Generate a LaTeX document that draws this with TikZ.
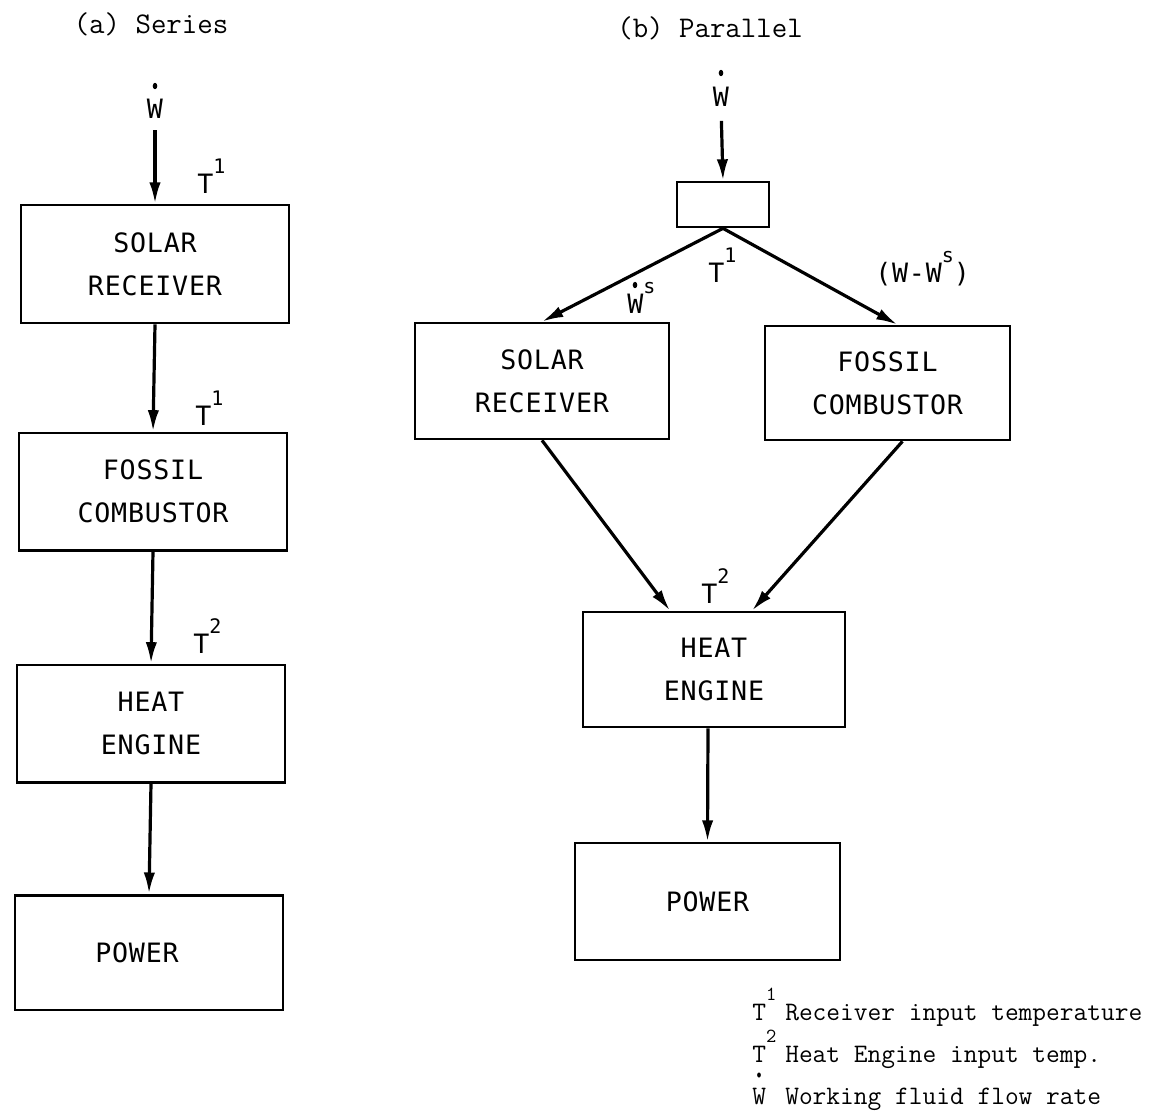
\documentclass[tikz,border=0pt]{standalone}
\usepackage{fontspec}
\usetikzlibrary{positioning,arrows.meta,calc}
\newfontfamily\boxfont[LetterSpace=3]{DejaVu Sans Mono}
\newcommand{\tsup}[1]{\raisebox{0.74em}{\fontsize{15}{15}\selectfont #1}}

\begin{document}
\begin{tikzpicture}[x=0.75pt, y=-0.75pt,
  block/.style={draw, line width=2pt, align=center, font=\boxfont\fontsize{20}{32}\selectfont},
  flow/.style={-{Latex[length=16pt,width=8.5pt]}, line width=2.4pt},
  lbl/.style={font=\boxfont\fontsize{20}{24}\selectfont, inner sep=0pt, anchor=base west},
  title/.style={font=\ttfamily\fontsize{22.5}{24}\selectfont},
  legend/.style={font=\ttfamily\fontsize{20}{22}\selectfont, inner sep=0pt, anchor=base west},
  ratedot/.style={fill, x radius=1.7pt, y radius=2.4pt}]

\useasboundingbox (0,0) rectangle (1164,1115);

% (a) series
\node[title] (ttlA) at (151,24) {(a) Series};
\node[lbl, anchor=base] (wA) at (155,118) {W};
\node[block, minimum width=201pt, minimum height=88.5pt] (solA) at (155,264) {SOLAR\\RECEIVER};
\node[block, minimum width=201pt, minimum height=88pt] (fosA) at (153,491.5) {FOSSIL\\COMBUSTOR};
\node[block, minimum width=201pt, minimum height=88pt] (heA) at (151,723.5) {HEAT\\ENGINE};
\node[block, minimum width=201pt, minimum height=86pt] (powA) at (149,952.5) {\hspace*{-18pt}POWER};

\node[lbl] (t1a) at (197,193) {T\tsup{1}};
\node[lbl] (t1b) at (195,425) {T\tsup{1}};
\node[lbl] (t2a) at (193,653) {T\tsup{2}};

\fill[ratedot] ($(wA.base)+(0,-32)$) ellipse [];
\draw[flow, shorten <=9pt] (wA.south) -- (solA.north);
\draw[flow] (solA.south) -- (fosA.north);
\draw[flow] (fosA.south) -- (heA.north);
\draw[flow] (heA.south) -- (powA.north);

% (b) parallel
\node[title] (ttlB) at (710,28) {(b) Parallel};
\node[lbl, anchor=base] (wB) at (721,106) {W};
\node[draw, line width=2pt, minimum width=69pt, minimum height=33.75pt] (split) at (723,204.5) {};
\node[block, minimum width=190.5pt, minimum height=87pt] (solB) at (542,381) {SOLAR\\RECEIVER};
\node[block, minimum width=183.75pt, minimum height=85.5pt] (fosB) at (887.5,383) {FOSSIL\\COMBUSTOR};
\node[block, minimum width=196.5pt, minimum height=86.25pt] (heB) at (714,669.5) {HEAT\\ENGINE};
\node[block, minimum width=198.75pt, minimum height=87.75pt] (powB) at (707.5,901.5) {POWER};

\node[lbl] (t1c) at (708,282) {T\tsup{1}};
\node[lbl] (wsB) at (627,313) {W\tsup{s}};
\node[lbl] (wrest) at (875,282) {(W-W\tsup{s})};
\node[lbl] (t2b) at (701,603) {T\tsup{2}};

\fill[ratedot] ($(wB.base)+(0,-33)$) ellipse [];
\fill[ratedot] ($(wsB.base west)+(8,-28)$) ellipse [];
\draw[flow, shorten <=11pt] (wB.south) -- (split.north);
\draw[flow] (split.south) -- (solB.north);
\draw[flow] (split.south) -- ($(fosB.north)+(10,0)$);
\draw[flow] (solB.south) -- ($(heB.north)+(-44,0)$);
\draw[flow] ($(fosB.south)+(15,0)$) -- ($(heB.north)+(38,0)$);
\draw[flow] ($(heB.south)+(-6,0)$) -- (powB.north);

% legend
\node[legend] (sym1) at (752,1020) {T\tsup{1}};
\node[legend] (txt1) at (785,1020) {Receiver input temperature};
\node[legend] (sym2) at (752,1062) {T\tsup{2}};
\node[legend] (txt2) at (785,1062) {Heat Engine input temp.};
\node[legend] (sym3) at (752,1104) {W};
\node[legend] (txt3) at (785,1104) {Working fluid flow rate};
\fill[ratedot, x radius=1.4pt, y radius=1.9pt] ($(sym3.base west)+(7,-29)$) ellipse [];

\end{tikzpicture}
\end{document}
